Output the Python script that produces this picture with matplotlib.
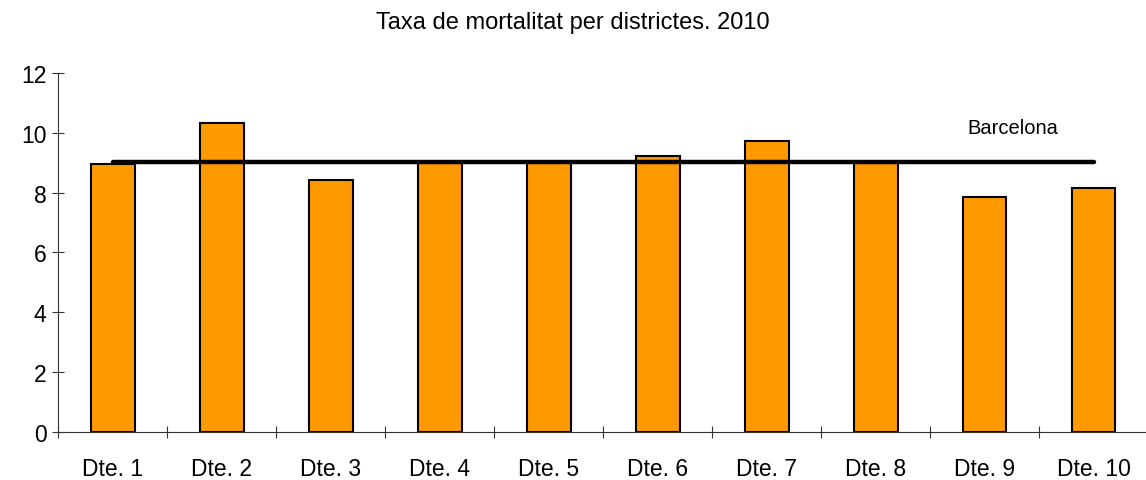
import numpy as np
import matplotlib
matplotlib.use("Agg")
import matplotlib.pyplot as plt

plt.rcParams['font.family'] = ['Liberation Sans', 'DejaVu Sans']

# dades
districtes = ['Dte. 1', 'Dte. 2', 'Dte. 3', 'Dte. 4', 'Dte. 5',
              'Dte. 6', 'Dte. 7', 'Dte. 8', 'Dte. 9', 'Dte. 10']
taxa = [8.95, 10.35, 8.43, 9.02, 9.02, 9.23, 9.73, 9.02, 7.87, 8.15]
barcelona = [9.04] * len(districtes)

x = np.arange(len(districtes))

fig = plt.figure(figsize=(11.46, 4.81), dpi=100)
ax = fig.add_axes([0.0509, 0.1008, 0.951, 0.7447])

ax.bar(x, taxa, width=0.4, color='#FF9900', edgecolor='black', linewidth=1.5, zorder=2)
ax.plot(x, barcelona, color='black', linewidth=3.2, solid_capstyle='round', zorder=3)
ax.text(8.26, 10.2, 'Barcelona', fontsize=14.5, ha='center', va='center')

ax.set_xlim(-0.5, 9.5)
ax.set_ylim(0, 12)
ax.set_yticks(np.arange(0, 13, 2))
ax.set_xticks(np.arange(-0.5, 9.6, 1), minor=False)
ax.set_xticklabels([])
ax.set_xticks(x, minor=True)
ax.set_xticklabels(districtes, minor=True, fontsize=16.5)
ax.tick_params(axis='x', which='minor', length=0, pad=18)
ax.tick_params(axis='x', which='major', direction='inout', length=9, width=0.8, color='#333333')
ax.tick_params(axis='y', direction='inout', length=9, width=0.8, color='#333333', labelsize=16.5, pad=4)

for s in ['top', 'right']:
    ax.spines[s].set_visible(False)
for s in ['left', 'bottom']:
    ax.spines[s].set_linewidth(0.8)
    ax.spines[s].set_color('#333333')

fig.text(0.5, 0.953, 'Taxa de mortalitat per districtes. 2010', ha='center', va='center', fontsize=17)

fig.savefig('out.png', dpi=100)
